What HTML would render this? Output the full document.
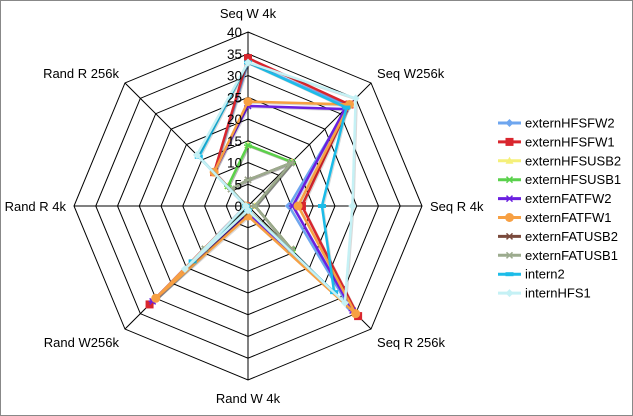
<!DOCTYPE html>
<html><head><meta charset="utf-8"><style>
body{margin:0;background:#fff}
svg{display:block;font-family:"Liberation Sans",sans-serif}
</style></head><body>
<svg width="633" height="416" viewBox="0 0 633 416">
<rect x="0.5" y="0.5" width="632" height="415" fill="#fff" stroke="#888"/>
<g id="grid"></g><g id="series"></g><g id="labels"></g><g id="legend"></g>
</svg>
<script>
const axes=["Seq W 4k","Seq W256k","Seq R 4k","Seq R 256k","Rand W 4k","Rand W256k","Rand R 4k","Rand R 256k"];
const ticks=[0,5,10,15,20,25,30,35,40];
const names=["externHFSFW2","externHFSFW1","externHFSUSB2","externHFSUSB1","externFATFW2","externFATFW1","externFATUSB2","externFATUSB1","intern2","internHFS1"];
const colors=["#6ea6ef","#d9262e","#f5f07a","#5ad14c","#6a1fe0","#f7a043","#7a4a3c","#9cab8e","#1cbce8","#c5f1f5"];
const sHFSFW2=[33,32.5,9.4,33,1,31,0.5,11];
const sHFSFW1=[34,33,12.4,35.8,1.5,32,0.5,11];
const sHFSUSB2=[14,14.3,1.6,14.3,1,14,0.5,6.5];
const sHFSUSB1=[14,14.3,1.6,14.3,1,14,0.5,6.5];
const sFATFW2=[23,31.5,10.3,34,1.5,31,0.5,11];
const sFATFW1=[24,33,11.5,35,2.3,30,0.5,11];
const sFATUSB2=[6,14,1.6,14,1,14,0.5,5.5];
const sFATUSB1=[6,14,1.6,14,1,14,0.5,5.5];
const sIntern2=[33,32,17,28,1,18,0.5,16];
const sInternHFS1=[33,35,24,31.5,1,20.5,0.5,16.6];
const series=[sHFSFW2,sHFSFW1,sHFSUSB2,sHFSUSB1,sFATFW2,sFATFW1,sFATUSB2,sFATUSB1,sIntern2,sInternHFS1];
const NS="http://www.w3.org/2000/svg";
const cx=248,cy=206,R=174,maxV=40;
function pt(i,v){const a=i*Math.PI/4;const r=v/maxV*R;return [cx+r*Math.sin(a),cy-r*Math.cos(a)];}
function mk(t,at,parent){const e=document.createElementNS(NS,t);for(const k in at)e.setAttribute(k,at[k]);parent.appendChild(e);return e;}
const grid=document.getElementById('grid');
ticks.forEach(t=>{if(t===0)return;
 const p=mk('polygon',{points:axes.map((_,i)=>pt(i,t).join(',')).join(' '),fill:'none',stroke:'#000','stroke-width':1},grid);
 
 
});
axes.forEach((a,i)=>{const [x,y]=pt(i,maxV);
 const l=mk('line',{x1:cx,y1:cy,x2:x,y2:y,stroke:'#000','stroke-width':1},grid);
 
 
});
const lab=document.getElementById('labels');
ticks.forEach(t=>{const [x,y]=pt(0,t);
 const e=mk('text',{x:x-6,y:y+5,'text-anchor':'end','font-size':13.5},lab);e.textContent=t;
 
 
});
const lpos=[[0,-14,'middle'],[6,-5,'start'],[8,5,'start'],[6,18,'start'],[0,23,'middle'],[-6,18,'end'],[-8,5,'end'],[-6,-5,'end']];
axes.forEach((a,i)=>{const [x,y]=pt(i,maxV);
 const e=mk('text',{x:x+lpos[i][0],y:y+lpos[i][1],'text-anchor':lpos[i][2],'font-size':13},lab);e.textContent=a;
 
 
});
function marker(g,i,x,y,c){
 let e;
 if(i===1)e=mk('rect',{x:x-4,y:y-4,width:8,height:8,fill:c},g);
 else if(i===5)e=mk('circle',{cx:x,cy:y,r:4.5,fill:c},g);
 else if(i===0||i===9)e=mk('polygon',{points:`${x},${y-4} ${x+4},${y} ${x},${y+4} ${x-4},${y}`,fill:c},g);
 else if(i===2)e=mk('polygon',{points:`${x},${y-4} ${x+4},${y+3} ${x-4},${y+3}`,fill:c},g);
 else if(i===8)e=mk('rect',{x:x-4,y:y-2,width:8,height:4,fill:c},g);
 else e=mk('path',{d:`M${x-3} ${y-3}L${x+3} ${y+3}M${x+3} ${y-3}L${x-3} ${y+3}M${x-4} ${y}H${x+4}`,stroke:c,'stroke-width':1.5},g);
 
 
}
const sg=document.getElementById('series');
series.forEach((s,k)=>{
 const g=mk('g',{},sg);
 
 
 const pts=s.map((v,i)=>pt(i,v));
 mk('polygon',{points:pts.map(p=>(p[0]+1)+','+(p[1]+1)).join(' '),fill:'none',stroke:'rgba(0,0,0,0.15)','stroke-width':2.5},g);
 const pl=mk('polygon',{points:pts.map(p=>p.join(',')).join(' '),fill:'none',stroke:colors[k],'stroke-width':2.5},g);
 
 
 pts.forEach(p=>marker(g,k,p[0],p[1],colors[k]));
});
const lg=document.getElementById('legend');
names.forEach((n,k)=>{const y=123+k*18.9;
 const g=mk('g',{},lg);
 
 
 mk('line',{x1:498,y1:y,x2:521,y2:y,stroke:colors[k],'stroke-width':3},g);
 marker(g,k,509.5,y,colors[k]);
 const t=mk('text',{x:525,y:y+4.5,'font-size':13},g);t.textContent=n;
 
 
});
</script>
</body></html>
